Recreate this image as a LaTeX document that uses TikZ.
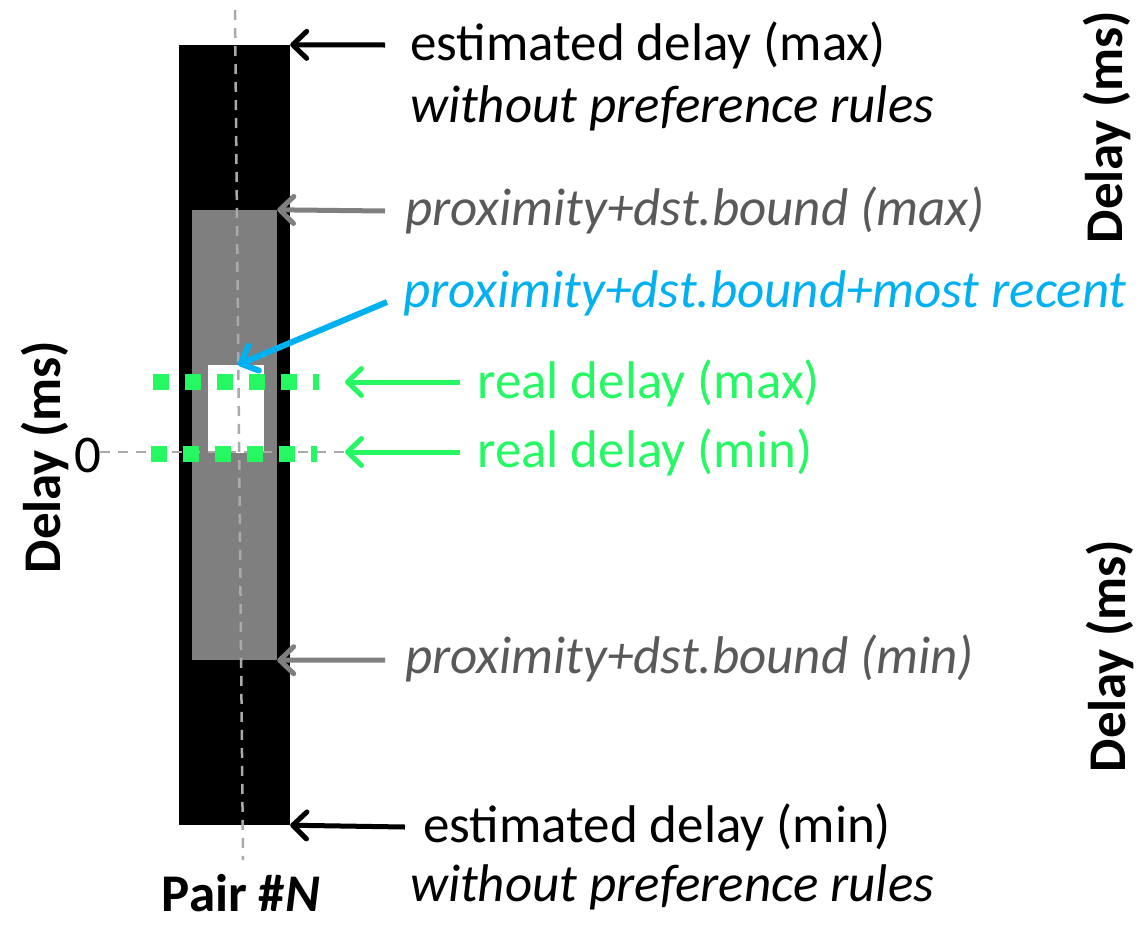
\documentclass[tikz,border=0pt]{standalone}
\usepackage{fontspec}
\setmainfont{Carlito}
\usetikzlibrary{arrows.meta}
\definecolor{realgreen}{RGB}{38,248,100}
\definecolor{recentblue}{RGB}{0,176,240}
\definecolor{proxgrey}{RGB}{127,127,127}
\definecolor{proxtext}{RGB}{89,89,89}
\definecolor{guidegrey}{RGB}{170,170,170}
\newcommand\figfont{\fontsize{53}{63}\selectfont}
\begin{document}
\begin{tikzpicture}
  [x=1pt,y=-1pt,every node/.style={inner sep=0pt,font=\figfont}]
  \tikzstyle{note} = [anchor=west]
  \tikzstyle{axisname} = [rotate=90,font=\figfont\bfseries]
  \tikzstyle{ptr} = [line width=5pt,-{Straight Barb[length=14pt,width=27pt,round]}]
  \tikzstyle{guide} = [guidegrey,line width=2.5pt,dash pattern=on 10pt off 8pt]
  \tikzstyle{realline} = [realgreen,line width=16pt,dash pattern=on 16pt off 16pt]
  \useasboundingbox (0,0) rectangle (1137,924);
  % delay ranges
  \node (est) [fill=black,minimum width=111,minimum height=780] at (234.5,435) {};
  \node (prox) [fill=proxgrey,minimum width=85,minimum height=450] at (234.5,435) {};
  \node (recent) [fill=white,minimum width=56,minimum height=88] at (236,409) {};
  % guides
  \coordinate (vtop) at (235,10);
  \coordinate (vbot) at (243,860);
  \coordinate (hleft) at (100,452);
  \coordinate (hright) at (345,452);
  \draw[guide] (vtop) -- (vbot);
  \draw[guide] (hleft) -- (hright);
  \coordinate (maxa) at (153,382);
  \coordinate (maxb) at (319,382);
  \coordinate (mina) at (151,454);
  \coordinate (minb) at (317,454);
  \draw[realline] (maxa) -- (maxb);
  \draw[realline] (mina) -- (minb);
  % texts
  \node (emax) [note] at (410,45) {estimated delay (max)};
  \node (emaxw) [note] at (410,108) {\itshape without preference rules};
  \node (pmax) [note,text=proxtext] at (405,210) {\itshape proximity+dst.bound (max)};
  \node (prec) [note,text=recentblue] at (403,293) {\itshape proximity+dst.bound+most recent};
  \node (rmax) [note,text=realgreen] at (477,383) {real delay (max)};
  \node (rmin) [note,text=realgreen] at (477,452) {real delay (min)};
  \node (pmin) [note,text=proxtext] at (405,658) {\itshape proximity+dst.bound (min)};
  \node (emin) [note] at (423,827) {estimated delay (min)};
  \node (eminw) [note] at (410,887) {\itshape without preference rules};
  \node (pair) [anchor=base,font=\figfont\bfseries] at (241,911) {Pair \#\textit{N}};
  \node (zero) at (88,455) {0};
  \node (yleft) [axisname] at (45,457) {Delay (ms)};
  \node (ytop) [axisname] at (1107,127) {Delay (ms)};
  \node (ybot) [axisname] at (1110,656) {Delay (ms)};
  % pointers
  \coordinate (t1) at (385,45);
  \coordinate (t2) at (385,211);
  \coordinate (t3) at (387,302);
  \coordinate (t4) at (460,382);
  \coordinate (t5) at (460,452);
  \coordinate (t6) at (385,660);
  \coordinate (t7) at (405,827);
  \coordinate (h4) at (345,382);
  \coordinate (h5) at (345,452);
  \foreach \source /\dest /\col in {t1/est.north east/black,t2/prox.north east/proxgrey,
    t4/h4/realgreen,t5/h5/realgreen,t6/prox.south east/proxgrey,t7/est.south east/black}
   \draw[ptr,\col] (\source) -- (\dest);
  \draw[ptr,recentblue,line width=6pt] (t3) -- ([xshift=2pt]recent.north);
\end{tikzpicture}
\end{document}
